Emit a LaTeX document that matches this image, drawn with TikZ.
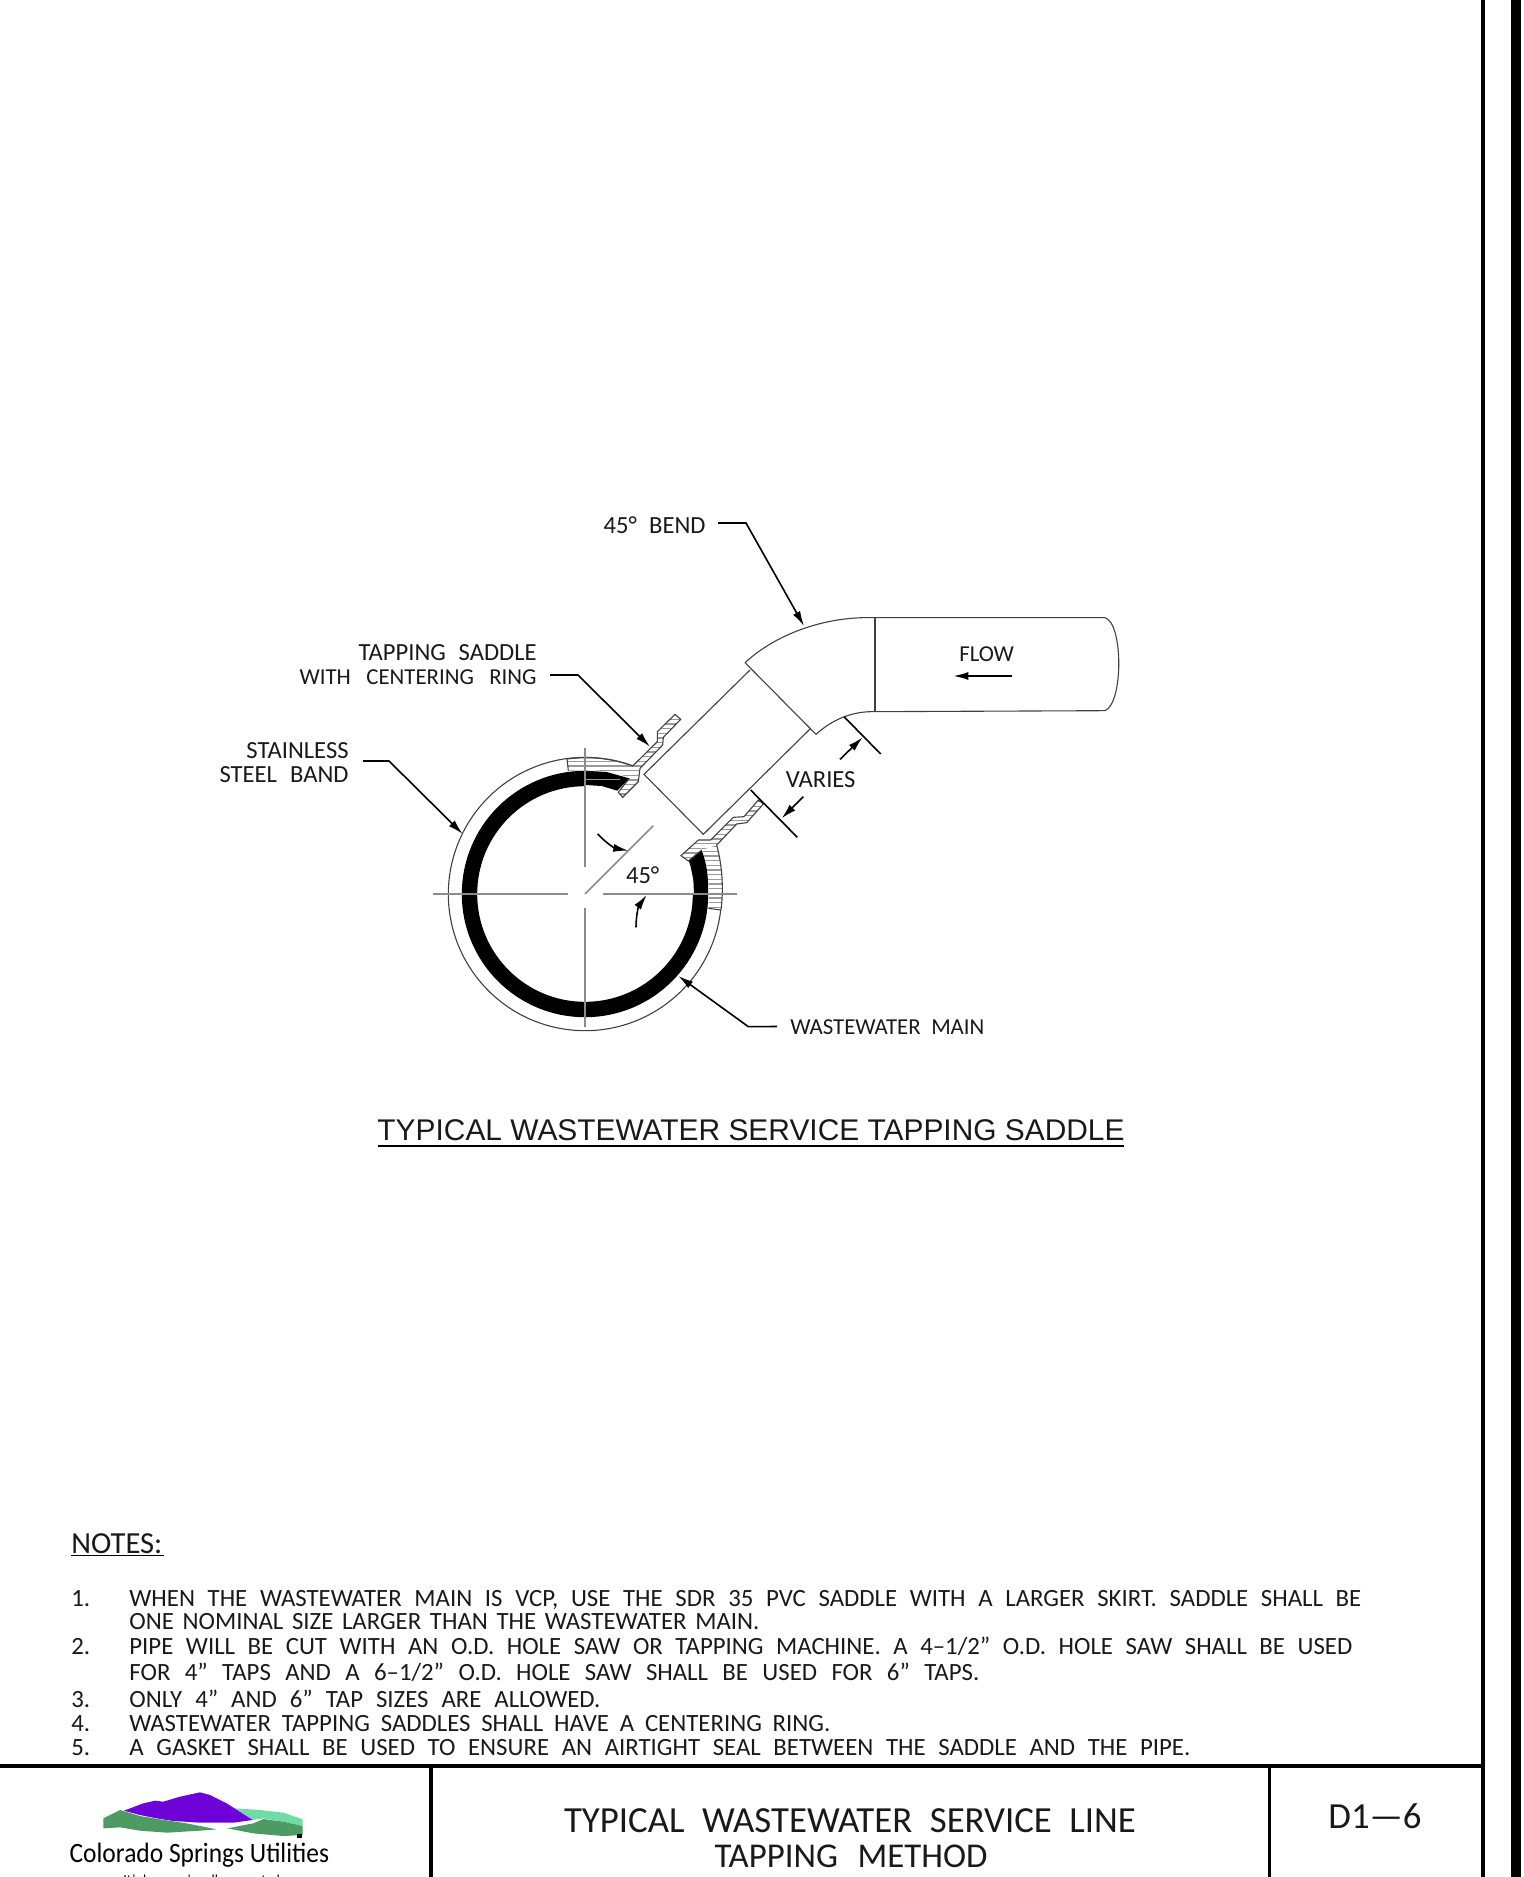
\documentclass[tikz,border=0pt]{standalone}
\usepackage{fontspec}
\usetikzlibrary{arrows.meta}
\setmainfont{Carlito}
\newfontfamily\arialf{Liberation Sans}
\definecolor{cgrey}{gray}{0.55}
\definecolor{logopurple}{HTML}{6E00D8}
\definecolor{logolight}{HTML}{6FDCA6}
\definecolor{logodark}{HTML}{4E9A63}
\tikzset{
  thin line/.style={line width=0.55pt,draw=black!75},
  center line/.style={line width=0.85pt,draw=cgrey},
  leader/.style={line width=0.8pt,draw=black,-{Latex[length=7.5pt,width=4pt]}},
  dimline/.style={line width=0.8pt,draw=black},
  frame line/.style={line width=1.8pt,draw=black},
  hatchline/.style={line width=0.7pt,draw=black!40},
  lbl/.style={inner sep=0pt,font=\fontsize{12.3}{13}\selectfont,text=black!90},
  lblsmall/.style={inner sep=0pt,font=\fontsize{11.4}{13}\selectfont,text=black!90},
  note/.style={inner sep=0pt,anchor=base west,font=\fontsize{12.4}{13}\selectfont,text=black!90},
  big/.style={inner sep=0pt,font=\fontsize{18.4}{20}\selectfont,text=black!90},
  bigsmall/.style={inner sep=0pt,font=\fontsize{17.4}{20}\selectfont,text=black!90},
}
\newcommand{\noteln}[4]{\node[note] (#1) at (129,#2) {\makebox[\dimexpr #3pt/2\relax][s]{#4}};}
\newcommand{\noten}[3]{\node[note] (#1) at (71,#2) {#3};}
\newcommand{\lblbox}[2]{\makebox[\dimexpr #1pt/2\relax][s]{#2}}
\begin{document}
\begin{tikzpicture}[x=0.5pt,y=-0.5pt]
\useasboundingbox (0,0) rectangle (1523,1877);
\clip (0,0) rectangle (1523,1877);
% frame
\coordinate (fl) at (0,1766); \coordinate (fr) at (1483,1766); \coordinate (ft) at (1483,0); \coordinate (fb) at (1483,1877);
\draw[frame line] (fl) -- (fr);
\draw[frame line] (ft) -- (fb);
\fill[black] (1511,0) rectangle (1521,1877);
\coordinate (d1t) at (431,1766); \coordinate (d1b) at (431,1877);
\coordinate (d2t) at (1269.5,1766); \coordinate (d2b) at (1269.5,1877);
\draw[frame line] (d1t) -- (d1b);
\draw[frame line] (d2t) -- (d2b);

% ---- zoom-1 coordinate system
\begin{scope}[shift={(420,680)},x=0.16667pt,y=-0.16667pt]
  % outer band (y axis points down, so angles run clockwise on the page)
  \draw[thin line] (495,642)++(6.7:410) arc[start angle=6.7,delta angle=283.7,radius=410];
  % ring
  \draw[line width=7.7pt,black,line cap=butt] (495,642)++(0:346.5) arc[start angle=0,delta angle=270,radius=346.5];
  \fill[black] (495,272) -- (560,276) -- (628,295) -- (592,332) -- (545,318) -- (495,315) -- cycle;
  % centre lines
  \coordinate (h1) at (40,642); \coordinate (h2) at (443,642);
  \coordinate (h3) at (549,642); \coordinate (h4) at (950,642);
  \coordinate (v1) at (495,203); \coordinate (v2) at (495,562);
  \coordinate (v3) at (495,683); \coordinate (v4) at (495,1042);
  \coordinate (dc) at (495,642); \coordinate (de) at (700,437);
  % saddle left
  \begin{scope}
    \clip (441,237) .. controls (510,228) and (580,235) .. (638,258) -- (712,185) -- (712,155) -- (765,103) -- (782,118) -- (730,172) -- (728,195) -- (660,265) -- (655,305) -- (608,352) -- (595,337) -- (628,295) -- (590,278) -- (520,270) -- (445,272) -- cycle;
    \foreach \yy in {104,118,...,360} \draw[hatchline] (430,\yy) -- (800,\yy);
  \end{scope}
  \draw[thin line] (445,272) -- (441,237) .. controls (510,228) and (580,235) .. (638,258) -- (712,185) -- (712,155) -- (765,103) -- (782,118) -- (730,172) -- (728,195) -- (660,265) -- (655,305) -- (608,352) -- (595,337) -- (628,295);
  \draw[line width=0.35pt,draw=black!40] (497,297) -- (600,297);
  % saddle right
  \begin{scope}
    \clip (783,527) -- (835,480) -- (872,480) -- (940,412) -- (972,410) -- (1015,360) -- (1030,372) -- (980,428) -- (950,432) -- (890,495) -- (845,510) -- (805,543) -- cycle;
    \foreach \yy in {365,379,...,560} \draw[hatchline] (780,\yy) -- (1040,\yy);
  \end{scope}
  \fill[black] (845,510) -- (806,541) -- (812,560) -- (820,600) -- (822,642) -- (864,642) .. controls (866,590) and (860,550) .. (845,510) -- cycle;
  \begin{scope}
    \clip (848,510) -- (890,495) .. controls (905,550) and (912,620) .. (903,690) -- (865,685) .. controls (870,620) and (862,560) .. (848,510) -- cycle;
    \foreach \yy in {500,514,...,700} \draw[hatchline] (840,\yy) -- (920,\yy);
  \end{scope}
  \draw[thin line] (903,690) -- (865,685);
  \draw[thin line] (890,495) .. controls (905,550) and (912,620) .. (903,690);
  \draw[thin line] (845,510) -- (805,543) -- (783,527) -- (835,480) -- (872,480) -- (940,412) -- (972,410) -- (1015,360) -- (1030,372) -- (980,428) -- (950,432) -- (890,495);
  % centre lines on top
  \draw[center line] (h1) -- (h2);
  \draw[center line] (h3) -- (h4);
  \draw[center line] (v1) -- (v2);
  \draw[center line] (v3) -- (v4);
  \draw[center line] (dc) -- (de);
  % angle arrows
  \coordinate (a1s) at (533,462); \coordinate (a1e) at (625,512);
  \coordinate (a2s) at (648,742); \coordinate (a2e) at (680,645);
  \draw[leader] (a1s) to[bend right=18] (a1e);
  \draw[leader] (a2s) to[bend left=18] (a2e);
  \node[lbl] (ang) at (668,585) {45°};
  % leader tips
  \coordinate (tipsaddle) at (690,200);
  \coordinate (tipband) at (128,462);
  \coordinate (tipmain) at (775,888);
  \coordinate (l3) at (985,1040);
  % pipe corners
  \coordinate (p1) at (672,283);
  \coordinate (p2) at (850,463);
\end{scope}

% ---- zoom-2 coordinate system
\begin{scope}[shift={(700,580)},x=0.16667pt,y=-0.16667pt]
  \coordinate (p3) at (150,270);
  \coordinate (p4) at (330,447);
  \draw[thin line] (p3) -- (p1) -- (p2) -- (p4);
  % bend
  \draw[thin line] (135,248) -- (348,463);
  \draw[thin line] (135,248) .. controls (225,165) and (370,108) .. (525,113);
  \draw[thin line] (348,463) .. controls (395,420) and (455,393) .. (525,395);
  \draw[thin line] (525,113) -- (525,395);
  \draw[thin line] (525,113) -- (1215,113) .. controls (1270,130) and (1270,370) .. (1215,392) -- (525,395);
  \node[lblsmall] (flow) at (860,222) {FLOW};
  \coordinate (fa) at (937,288); \coordinate (fb2) at (760,288);
  \draw[leader] (fa) -- (fb2);
  \coordinate (tipbend) at (312,138);
  \node[lbl] (varies) at (362,600) {VARIES};
  \coordinate (d1a) at (432,410); \coordinate (d1b2) at (542,522);
  \coordinate (d2a) at (152,630); \coordinate (d2b2) at (292,772);
  \draw[dimline] (d1a) -- (d1b2);
  \draw[dimline] (d2a) -- (d2b2);
  \coordinate (a3s) at (420,538); \coordinate (a3e) at (488,472);
  \coordinate (a4s) at (310,650); \coordinate (a4e) at (245,715);
  \draw[leader] (a3s) -- (a3e);
  \draw[leader] (a4s) -- (a4e);
\end{scope}

% labels & leaders
\node[lbl,anchor=east] (bendl) at (706,525) {\lblbox{102}{45° BEND}};
\coordinate (k1) at (718,523); \coordinate (k2) at (746,523);
\draw[leader] (k1) -- (k2) -- (tipbend);
\node[lbl,anchor=east] (sad1) at (537,653) {\lblbox{178}{TAPPING SADDLE}};
\node[lblsmall,anchor=east] (sad2) at (537,677) {\lblbox{237}{WITH CENTERING RING}};
\coordinate (k3) at (550,675); \coordinate (k4) at (578,675);
\draw[leader] (k3) -- (k4) -- (tipsaddle);
\node[lbl,anchor=east] (st1) at (349,751) {STAINLESS};
\node[lbl,anchor=east] (st2) at (349,775) {\lblbox{129}{STEEL BAND}};
\coordinate (k5) at (363,761); \coordinate (k6) at (389,761);
\draw[leader] (k5) -- (k6) -- (tipband);
\node[lblsmall,anchor=west] (mainl) at (790,1027) {\lblbox{194}{WASTEWATER MAIN}};
\coordinate (k7) at (777,1026.5);
\draw[leader] (k7) -- (l3) -- (tipmain);

% title
\node[inner sep=0pt,anchor=base,font=\arialf\fontsize{14.95}{18}\selectfont,text=black!90] (title) at (751,1140) {TYPICAL WASTEWATER SERVICE TAPPING SADDLE};
\coordinate (u1) at (378,1146); \coordinate (u2) at (1124,1146);
\draw[line width=0.9pt] (u1) -- (u2);

% notes
\node[inner sep=0pt,anchor=base west,font=\fontsize{15.3}{17}\selectfont,text=black!90] (notes) at (71,1553) {NOTES:};
\coordinate (u3) at (71,1555.5); \coordinate (u4) at (164,1555.5);
\draw[line width=0.7pt] (u3) -- (u4);
\noten{n1}{1606}{1.}
\noten{n2}{1654}{2.}
\noten{n3}{1707}{3.}
\noten{n4}{1731}{4.}
\noten{n5}{1755}{5.}
\noteln{l1}{1606}{1232}{WHEN THE WASTEWATER MAIN IS VCP, USE THE SDR 35 PVC SADDLE WITH A LARGER SKIRT. SADDLE SHALL BE}
\noteln{l2}{1629}{630}{ONE NOMINAL SIZE LARGER THAN THE WASTEWATER MAIN.}
\noteln{l3x}{1654}{1223}{PIPE WILL BE CUT WITH AN O.D. HOLE SAW OR TAPPING MACHINE. A 4–1/2” O.D. HOLE SAW SHALL BE USED}
\noteln{l4}{1680}{850}{FOR 4” TAPS AND A 6–1/2” O.D. HOLE SAW SHALL BE USED FOR 6” TAPS.}
\noteln{l5}{1707}{471}{ONLY 4” AND 6” TAP SIZES ARE ALLOWED.}
\noteln{l6}{1731}{701}{WASTEWATER TAPPING SADDLES SHALL HAVE A CENTERING RING.}
\noteln{l7}{1755}{1061}{A GASKET SHALL BE USED TO ENSURE AN AIRTIGHT SEAL BETWEEN THE SADDLE AND THE PIPE.}

% title block
\node[big,anchor=base] (tb1) at (850,1832) {\makebox[286pt][s]{TYPICAL WASTEWATER SERVICE LINE}};
\node[bigsmall,anchor=base] (tb2) at (851,1867) {\makebox[136.5pt][s]{TAPPING METHOD}};
\node[big,anchor=base] (tb3) at (1375,1828) {D1—6};

% logo
\begin{scope}[shift={(0,1740)},x=0.16667pt,y=-0.16667pt]
  \fill[logolight] (705,205) -- (780,210) -- (850,218) -- (908,238) -- (908,258) -- (850,245) -- (790,235) -- (758,240) -- cycle;
  \fill[logopurple] (372,212) -- (430,190) -- (465,182) -- (490,185) -- (540,170) -- (600,157) -- (630,165) -- (680,190) -- (758,240) -- (700,248) -- (600,248) -- (520,243) -- (470,235) -- (420,225) -- cycle;
  \fill[logodark] (310,235) -- (360,210) -- (420,228) -- (480,238) -- (560,250) -- (650,268) -- (600,272) -- (500,278) -- (420,272) -- (360,262) -- (310,265) -- cycle;
  \fill[logodark] (682,265) -- (760,250) -- (790,237) -- (850,245) -- (908,258) -- (908,285) -- (850,288) -- (760,280) -- cycle;
  \fill[black] (890,283) rectangle (905,293);
  \node[inner sep=0pt,anchor=base,font=\fontsize{14}{16}\selectfont] (brand) at (598,368) {\scalebox{0.91}[1]{Colorado Springs Utilities}};
  \node[inner sep=0pt,anchor=base,font=\fontsize{6.9}{8}\selectfont] (tag) at (605,432) {It's how we're all connected};
\end{scope}
\end{tikzpicture}
\end{document}
